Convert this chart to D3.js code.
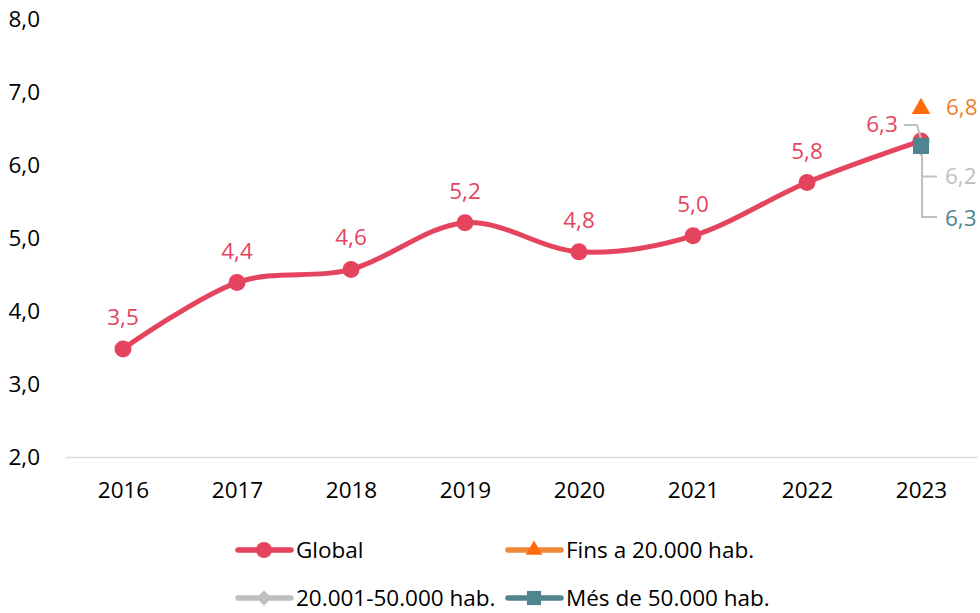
<!DOCTYPE html>
<html>
<head>
<meta charset="utf-8">
<script src="https://cdn.jsdelivr.net/npm/d3@7"></script>
<style>
  body { margin: 0; background: #fff; }
  svg { font-family: "Open Sans", "Noto Sans", sans-serif; }
</style>
</head>
<body>
<svg id="chart" width="980" height="613"></svg>
<script>
// Yearly series
const years = ["2016", "2017", "2018", "2019", "2020", "2021", "2022", "2023"];
const globalValues = [3.48, 4.39, 4.57, 5.21, 4.81, 5.03, 5.76, 6.33];
// Size-group series (only 2023 available)
const finsA20000 = [null, null, null, null, null, null, null, 6.8];
const de20001a50000 = [null, null, null, null, null, null, null, 6.2];
const mesDe50000 = [null, null, null, null, null, null, null, 6.26];
const yTicks = [2, 3, 4, 5, 6, 7, 8];

const fmt = v => d3.format(".1f")(v).replace(".", ",");
const FS = 22.5;

const svg = d3.select("#chart");
const W = 980, H = 613;
const margin = { left: 66, right: 2, top: 19, bottom: 156 };

const x = d3.scalePoint().domain(years).range([123, 921]);
const y = d3.scaleLinear().domain([2, 8]).range([H - margin.bottom, margin.top]);

// Y axis labels (no axis line)
const yAxis = svg.append("g")
  .attr("transform", `translate(${margin.left - 23},0)`)
  .call(d3.axisLeft(y).tickValues(yTicks).tickFormat(fmt).tickSize(0));
yAxis.select(".domain").remove();
yAxis.selectAll("text").attr("font-size", FS).attr("fill", "#000").attr("font-family", "'Open Sans', sans-serif").attr("text-anchor", "end");

// X axis
const xAxis = svg.append("g")
  .attr("transform", `translate(0,${y(2)})`)
  .call(d3.axisBottom(x).tickSize(0).tickPadding(25));
xAxis.select(".domain").attr("d", `M${margin.left},0.5H${W - margin.right}`).attr("stroke", "#d9d9d9").attr("stroke-width", 1.5);
xAxis.selectAll("text").attr("font-size", FS).attr("fill", "#000").attr("font-family", "'Open Sans', sans-serif");

const red = "#E5445E", orange = "#FF6A0D", orangeLine = "#F0863A", grey = "#BFBFBF", teal = "#4E8590";

// Global smoothed line
const gData = years.map((yr, i) => ({ yr, v: globalValues[i] }));
svg.append("path")
  .datum(gData)
  .attr("fill", "none")
  .attr("stroke", red)
  .attr("stroke-width", 5)
  .attr("stroke-linecap", "round")
  .attr("d", d3.line().x(d => x(d.yr)).y(d => y(d.v)).curve(d3.curveCatmullRom.alpha(0)));

svg.append("g").selectAll("circle").data(gData).join("circle")
  .attr("cx", d => x(d.yr)).attr("cy", d => y(d.v)).attr("r", 8.5).attr("fill", red);

// Global data labels
svg.append("g").selectAll("text").data(gData.slice(0, 7)).join("text")
  .attr("x", d => x(d.yr)).attr("y", d => y(d.v) - 24)
  .attr("text-anchor", "middle").attr("font-size", FS).attr("fill", red)
  .text(d => fmt(d.v));

const last = years.length - 1;
const xl = x(years[last]);

// Leader lines for 2023 labels
const leaders = svg.append("g").attr("fill", "none").attr("stroke", grey).attr("stroke-width", 2);
leaders.append("path").attr("d", `M${xl - 17},${y(globalValues[last]) - 16}H${xl - 4}L${xl},${y(globalValues[last]) - 2}`);
leaders.append("path").attr("d", `M${xl + 1},${y(mesDe50000[last]) + 4}V${y(de20001a50000[last]) + 26}H${xl + 16}`);
leaders.append("path").attr("d", `M${xl + 1},${y(mesDe50000[last]) + 4}V${y(mesDe50000[last]) + 71}H${xl + 16}`);

// 2023 global label
svg.append("text").attr("x", xl - 39).attr("y", y(globalValues[last]) - 9)
  .attr("text-anchor", "middle").attr("font-size", FS).attr("fill", red)
  .text(fmt(globalValues[last]));

// Diamond marker (20.001-50.000), mostly hidden behind the square
svg.append("path")
  .attr("transform", `translate(${xl},${y(de20001a50000[last])})`)
  .attr("d", d3.symbol().type(d3.symbolDiamond2).size(80)())
  .attr("fill", grey);

// Square marker (més de 50.000)
svg.append("rect")
  .attr("x", xl - 8).attr("y", y(mesDe50000[last]) - 8).attr("width", 16).attr("height", 16)
  .attr("fill", teal);

// Triangle marker (fins a 20.000)
svg.append("path")
  .attr("transform", `translate(${xl},${y(finsA20000[last]) + 2})`)
  .attr("d", d3.symbol().type(d3.symbolTriangle).size(150)())
  .attr("fill", orange);

svg.append("text").attr("x", xl + 25).attr("y", y(finsA20000[last]) + 8)
  .attr("font-size", FS).attr("fill", "#F07F2E").text(fmt(finsA20000[last]));
svg.append("text").attr("x", xl + 24).attr("y", y(de20001a50000[last]) + 34)
  .attr("font-size", FS).attr("fill", grey).text(fmt(de20001a50000[last]));
svg.append("text").attr("x", xl + 24).attr("y", y(mesDe50000[last]) + 80)
  .attr("font-size", FS).attr("fill", teal).text(fmt(mesDe50000[last]));

// Legend
const legendItems = [
  { name: "Global", color: red, marker: "circle", lx: 237, ly: 550 },
  { name: "Fins a 20.000 hab.", color: orangeLine, mcolor: orange, marker: "triangle", lx: 507, ly: 550 },
  { name: "20.001-50.000 hab.", color: grey, marker: "diamond", lx: 237, ly: 598 },
  { name: "Més de 50.000 hab.", color: teal, marker: "square", lx: 507, ly: 598 }
];
const lg = svg.append("g").selectAll("g").data(legendItems).join("g")
  .attr("transform", d => `translate(${d.lx},${d.ly})`);
lg.append("line").attr("x1", 1).attr("x2", 54).attr("y1", 0).attr("y2", 0)
  .attr("stroke", d => d.color).attr("stroke-width", 5.5).attr("stroke-linecap", "round");
lg.append("path")
  .attr("transform", "translate(27,0)")
  .attr("d", d => {
    if (d.marker === "circle") return d3.symbol().type(d3.symbolCircle).size(200)();
    if (d.marker === "triangle") return d3.symbol().type(d3.symbolTriangle).size(120)();
    if (d.marker === "diamond") return d3.symbol().type(d3.symbolDiamond2).size(150)();
    return d3.symbol().type(d3.symbolSquare).size(200)();
  })
  .attr("fill", d => d.mcolor || d.color);
lg.append("text").attr("x", 59).attr("y", 8).attr("font-size", FS).attr("fill", "#000").text(d => d.name);
</script>
</body>
</html>
